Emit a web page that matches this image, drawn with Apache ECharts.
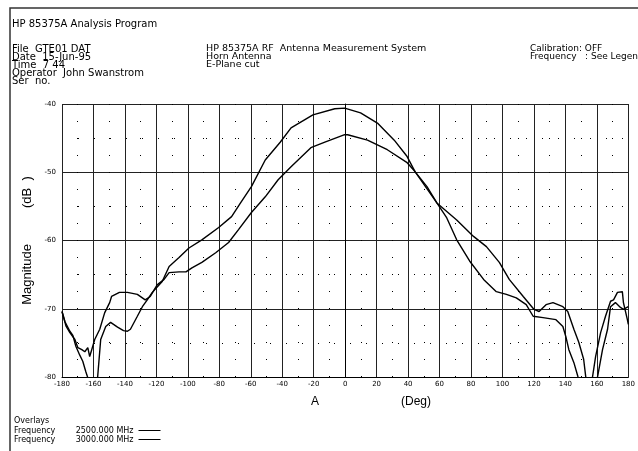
<!DOCTYPE html>
<html>
<head>
<meta charset="utf-8">
<script src="https://cdn.jsdelivr.net/npm/echarts@6/dist/echarts.min.js"></script>
<style>
html,body{margin:0;padding:0;background:#fff;}
#chart{width:638px;height:451px;}
</style>
</head>
<body>
<div id="chart"></div>
<script>
// ---- data ----
const xTicks = [-180,-160,-140,-120,-100,-80,-60,-40,-20,0,20,40,60,80,100,120,140,160,180];
const yTicks = [-80,-70,-60,-50,-40];

const nameHigh = '3000.000 MHz';
const nameLow  = '2500.000 MHz';

// curve with the higher main-lobe peak
const highDeg = [-180,-178.1,-175.0,-173.1,-171.2,-168.7,-166.8,-164.9,-163.6,-160.5,-157.3,-155.4,-152.2,-149.1,-144.7,-140.9,-138.4,-136.5,-132.1,-128.9,-125.8,-122.6,-119.5,-116.3,-111.9,-105.6,-99.3,-91.1,-80.4,-72.2,-66.5,-59.6,-50.8,-41.3,-34.4,-20.5,-6.6,-0.3,9.8,20.5,31.2,39.4,44.4,52.0,58.3,64.6,70.9,79.1,88.0,96.1,102.5,108.8,115.1,119.5,125.8,134.0,138.4,140.3,142.2,145.4,147.9,154.2,160.5,163.6,166.8,168.7,171.8,175.0,176.9,180];
const highDb  = [-70.4,-71.9,-73.3,-73.9,-75.5,-76.8,-77.7,-79.2,-80.1,-84,-79.9,-74.5,-72.6,-72.0,-72.7,-73.2,-73.3,-73.0,-71.1,-69.7,-68.7,-67.6,-66.8,-66.0,-63.8,-62.5,-61.1,-59.9,-58.1,-56.5,-54.5,-52.1,-48.2,-45.6,-43.5,-41.6,-40.7,-40.6,-41.3,-42.8,-45.3,-47.7,-49.9,-52.1,-54.5,-56.7,-59.9,-63.0,-65.7,-67.5,-67.9,-68.4,-69.4,-71.1,-71.3,-71.6,-72.6,-74.1,-76.0,-77.9,-79.9,-85,-79.9,-76.0,-73.0,-69.7,-69.1,-69.8,-70.1,-69.7];

// curve with the lower main-lobe peak
const lowDeg = [-180,-177.5,-175.0,-171.8,-169.9,-167.4,-165.5,-163.6,-162.4,-161.1,-159.2,-156.0,-152.9,-149.7,-148.5,-143.5,-138.4,-132.1,-127.1,-123.9,-119.5,-115.1,-111.9,-105.6,-101.2,-97.4,-91.1,-82.3,-74.1,-67.8,-59.6,-50.8,-42.6,-34.4,-21.8,-12.9,-0.3,1.6,14.2,26.8,39.4,44.4,58.3,70.9,81.6,89.8,98.0,104.3,113.2,120.1,123.3,127.7,132.1,138.4,141.5,145.4,148.5,151.6,152.9,154.8,157.3,159.2,162.4,165.5,168.7,170.6,173.1,176.2,176.9,179.4,180];
const lowDb  = [-70.4,-72.5,-73.5,-74.5,-75.7,-76.0,-76.3,-75.7,-77.0,-76.0,-74.5,-73.0,-70.6,-69.1,-68.2,-67.6,-67.6,-67.9,-68.7,-68.2,-66.5,-65.7,-64.7,-64.6,-64.6,-64.0,-63.2,-61.8,-60.3,-58.4,-55.9,-53.6,-51.1,-49.2,-46.4,-45.6,-44.5,-44.5,-45.3,-46.7,-48.6,-49.9,-54.5,-57.0,-59.4,-60.9,-63.2,-65.7,-68.2,-70.1,-70.4,-69.4,-69.1,-69.7,-70.4,-73.0,-74.9,-77.4,-79.9,-83,-79.9,-77.0,-73.5,-71.1,-68.9,-68.7,-67.6,-67.5,-69.1,-71.6,-72.3];

const FONT = 'Liberation Sans';
const HFONT = 'DejaVu Sans';
const pairs = (xs, ys) => xs.map((x, i) => [x, ys[i]]);

const chart = echarts.init(document.getElementById('chart'), null, {renderer: 'canvas'});

const txt = (x, y, text, size, fam) => ({
  type: 'text', left: x, top: y,
  style: {text: text, font: (size || 9) + 'px "' + (fam || HFONT) + '"', fill: '#000', lineHeight: 8}
});

chart.setOption({
  backgroundColor: '#fff',
  animation: false,
  textStyle: {fontFamily: FONT},
  grid: {left: 62, right: 5, top: 104, bottom: 74, containLabel: false},
  xAxis: {
    type: 'value', min: -180, max: 180, interval: 20,
    axisLine: {show: true, lineStyle: {color: '#000', width: 1}},
    axisTick: {show: false},
    axisLabel: {fontSize: 7, color: '#000', margin: 4, fontFamily: HFONT,
      showMinLabel: true, showMaxLabel: true},
    splitLine: {show: true, lineStyle: {color: '#222', width: 1}},
    minorTick: {show: false, splitNumber: 2},
    minorSplitLine: {show: true, lineStyle: {color: '#000', width: 1, type: [1, 16]}}
  },
  yAxis: {
    type: 'value', min: -80, max: -40, interval: 10,
    name: 'Magnitude          (dB  )',
    nameLocation: 'middle', nameGap: 10, nameRotate: 90,
    nameTextStyle: {fontSize: 13, color: '#000', fontFamily: FONT},
    axisLine: {show: true, lineStyle: {color: '#000', width: 1}},
    axisTick: {show: false},
    axisLabel: {fontSize: 7, color: '#000', margin: 6, fontFamily: HFONT},
    splitLine: {show: true, lineStyle: {color: '#222', width: 1}},
    minorTick: {show: false, splitNumber: 2},
    minorSplitLine: {show: true, lineStyle: {color: '#000', width: 1, type: [1, 15]}}
  },
  legend: {
    show: true, orient: 'vertical', left: 14, top: 426, padding: 0,
    align: 'right', itemGap: 0, itemWidth: 22, itemHeight: 1,
    icon: 'rect', selectedMode: false,
    data: [nameLow, nameHigh],
    formatter: n => 'Frequency        ' + n,
    textStyle: {fontSize: 8, color: '#000', fontFamily: HFONT, lineHeight: 9, padding: [0, 0, 0, 0]}
  },
  graphic: [
    {type: 'rect', shape: {x: 10, y: 8, width: 700, height: 500},
     style: {fill: 'none', stroke: '#333', lineWidth: 1.5}, silent: true},
    txt(12, 19, 'HP 85375A Analysis Program', 10),
    txt(12, 44, 'File  GTE01 DAT\nDate  15-Jun-95\nTime  7 44\nOperator  John Swanstrom\nSer  no.', 10),
    txt(206, 44, 'HP 85375A RF  Antenna Measurement System\nHorn Antenna\nE-Plane cut', 9.5),
    txt(530, 44, 'Calibration: OFF\nFrequency   : See Legend', 9),
    txt(311, 396, 'A', 12, FONT),
    txt(401, 396, '(Deg)', 12, FONT),
    txt(14, 417, 'Overlays', 8)
  ],
  series: [
    {name: nameLow, type: 'line', data: pairs(lowDeg, lowDb), showSymbol: false,
     clip: true, lineStyle: {color: '#000', width: 1.4}, itemStyle: {color: '#000'}},
    {name: nameHigh, type: 'line', data: pairs(highDeg, highDb), showSymbol: false,
     clip: true, lineStyle: {color: '#000', width: 1.4}, itemStyle: {color: '#000'}}
  ]
});
</script>
</body>
</html>
